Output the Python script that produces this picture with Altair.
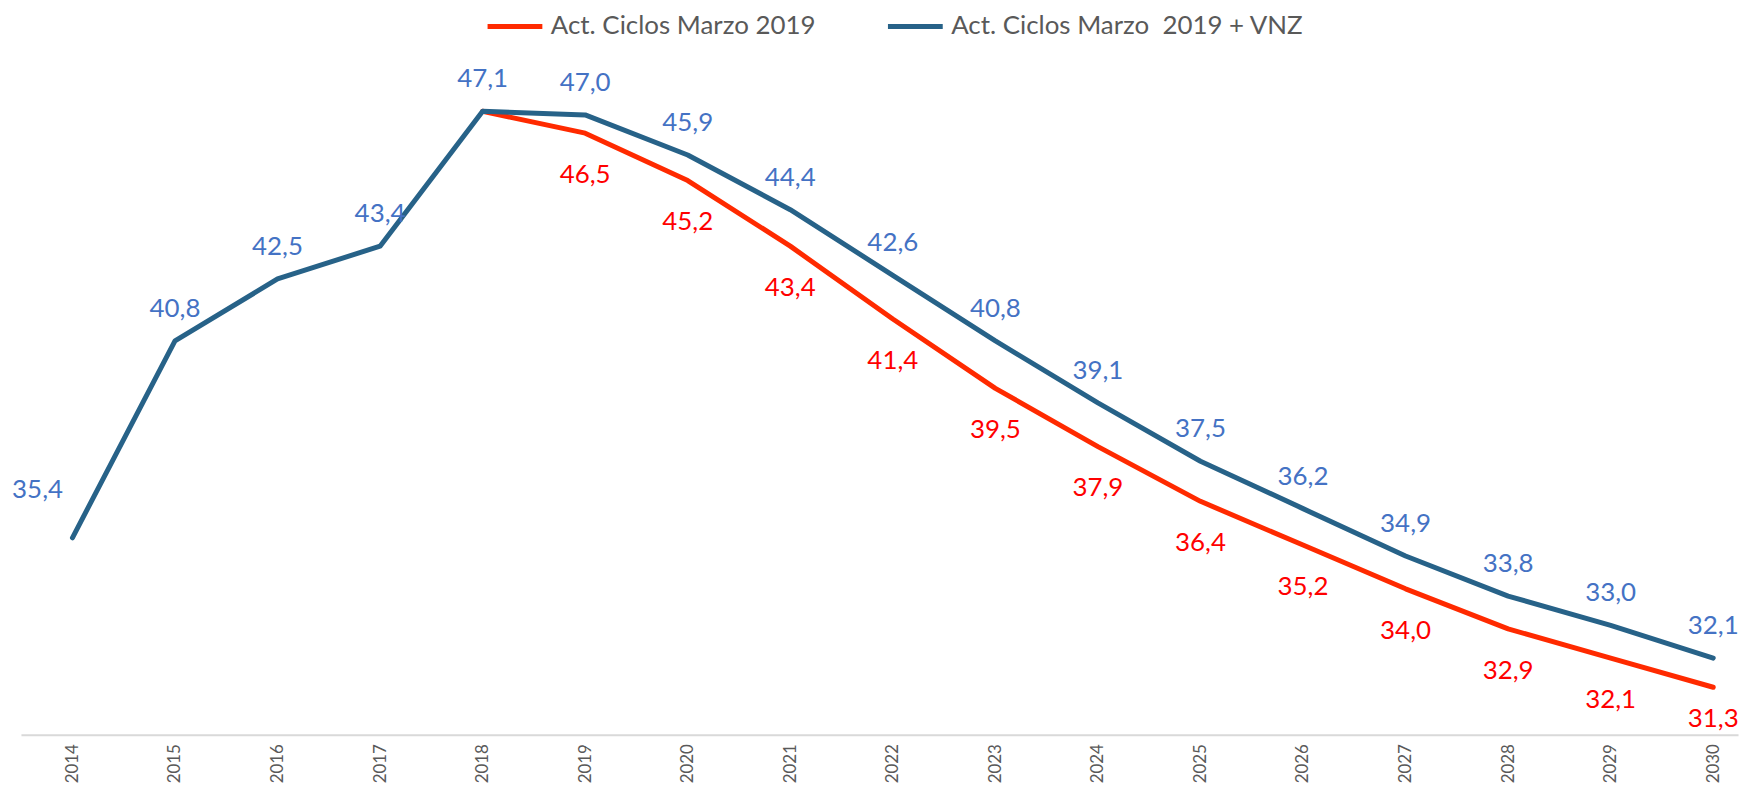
import altair as alt
import pandas as pd

years_blue = [2014, 2015, 2016, 2017, 2018, 2019, 2020, 2021, 2022, 2023, 2024, 2025, 2026, 2027, 2028, 2029, 2030]
values_blue = [35.4, 40.8, 42.5, 43.4, 47.1, 47.0, 45.9, 44.4, 42.6, 40.8, 39.1, 37.5, 36.2, 34.9, 33.8, 33.0, 32.1]
years_red = [2018, 2019, 2020, 2021, 2022, 2023, 2024, 2025, 2026, 2027, 2028, 2029, 2030]
values_red = [47.1, 46.5, 45.2, 43.4, 41.4, 39.5, 37.9, 36.4, 35.2, 34.0, 32.9, 32.1, 31.3]

name_red = "Act. Ciclos Marzo 2019"
name_blue = "Act. Ciclos Marzo\u00a0 2019 + VNZ"
line_red = "#FF2A00"
line_blue = "#276288"
lab_red = "#FF0000"
lab_blue = "#4472C4"
font = "Lato"

df_blue = pd.DataFrame({"year": years_blue, "value": values_blue, "series": name_blue})
df_red = pd.DataFrame({"year": years_red, "value": values_red, "series": name_red})

x = alt.X("year:Q",
          scale=alt.Scale(domain=[2013.498, 2030.242], nice=False, zero=False),
          axis=alt.Axis(values=years_blue, format="d", labelAngle=270, grid=False, ticks=False,
                        domainColor="#D9D9D9", domainWidth=2, labelColor="#595959",
                        labelFont=font, labelFontSize=17, labelPadding=9, title=None,
                        labelOverlap=False, labelFlush=False))
y = alt.Y("value:Q", scale=alt.Scale(domain=[30, 49.89], nice=False, zero=False), axis=None)
color = alt.Color("series:N",
                  scale=alt.Scale(domain=[name_red, name_blue], range=[line_red, line_blue]),
                  legend=alt.Legend(orient="none", legendX=466, legendY=-13, direction="horizontal",
                                    title=None, symbolType="stroke", symbolSize=3025,
                                    symbolStrokeWidth=5, labelFont=font, labelFontSize=26,
                                    labelColor="#595959", labelLimit=600, labelOffset=6,
                                    columnPadding=62))

fmt = "replace(format(datum.value, '.1f'), '.', ',')"

red_line = alt.Chart(df_red).mark_line(strokeWidth=5, strokeCap="round", strokeJoin="round").encode(x=x, y=y, color=color)
blue_line = alt.Chart(df_blue).mark_line(strokeWidth=5, strokeCap="round", strokeJoin="round").encode(x=x, y=y, color=color)

txt = dict(font=font, fontSize=26, baseline="middle", align="center")

blue_lab = alt.Chart(df_blue).transform_filter("datum.year >= 2015").transform_calculate(lab=fmt).mark_text(
    dy=-32, color=lab_blue, **txt).encode(x=x, y=y, text="lab:N")
blue_lab0 = alt.Chart(df_blue).transform_filter("datum.year == 2014").transform_calculate(lab=fmt).mark_text(
    dx=-35, dy=-48, color=lab_blue, **txt).encode(x=x, y=y, text="lab:N")
red_lab = alt.Chart(df_red).transform_filter("datum.year >= 2019 && datum.year <= 2029").transform_calculate(lab=fmt).mark_text(
    dy=42, color=lab_red, **txt).encode(x=x, y=y, text="lab:N")
red_lab_end = alt.Chart(df_red).transform_filter("datum.year == 2030").transform_calculate(lab=fmt).mark_text(
    dy=32, color=lab_red, **txt).encode(x=x, y=y, text="lab:N")

chart = alt.layer(red_line, blue_line, blue_lab, blue_lab0, red_lab, red_lab_end).properties(
    width=1724, height=728,
    autosize=alt.AutoSizeParams(type="none"),
    padding={"left": 13, "top": 0, "right": 8, "bottom": 50},
).configure(background="white").configure_view(stroke=None)

chart.save("out.html", embed_options={"renderer": "svg", "actions": False})
